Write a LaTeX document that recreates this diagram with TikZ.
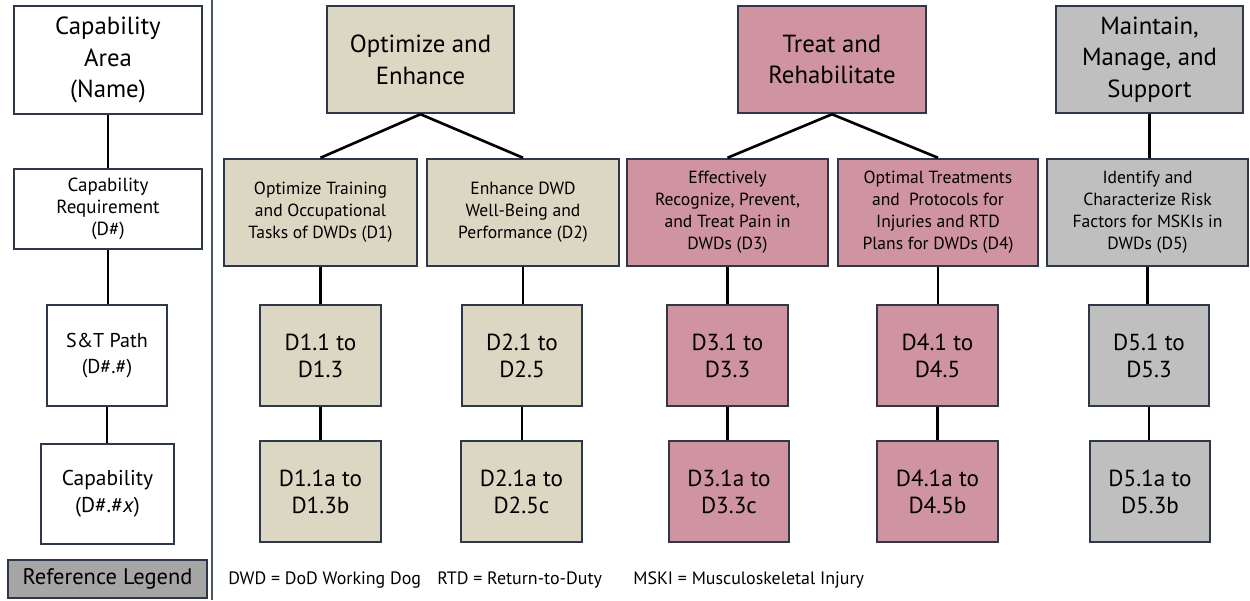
\documentclass[tikz,border=0pt]{standalone}
\usepackage{fontspec}
\setmainfont{PT Sans}
\definecolor{tanf}{HTML}{DBD7C2}
\definecolor{pinkf}{HTML}{D094A0}
\definecolor{grayf}{HTML}{BFBFBF}
\definecolor{legf}{HTML}{A6A6A6}
\definecolor{bord}{HTML}{2E3848}
\definecolor{divc}{HTML}{4A5666}
\newcommand{\bigtxt}{\fontsize{14.1pt}{18.1pt}\selectfont}
\newcommand{\midtxt}{\fontsize{10.0pt}{12.5pt}\selectfont}
\newcommand{\reqtxt}{\fontsize{10.8pt}{12.5pt}\selectfont}
\newcommand{\pathtxt}{\fontsize{12.2pt}{15.3pt}\selectfont}
\newcommand{\sttxt}{\fontsize{11.4pt}{15.3pt}\selectfont}
\newcommand{\numtxt}{\fontsize{13.2pt}{15.3pt}\selectfont}
\newcommand{\legtxt}{\fontsize{12.8pt}{15pt}\selectfont}
\newcommand{\notetxt}{\fontsize{10.2pt}{13pt}\selectfont}
\begin{document}
\begin{tikzpicture}[x=0.02cm,y=-0.02cm,
  box/.style={draw=bord, line width=1.4pt, inner sep=0pt, align=center, text=black},
  conn/.style={draw=black, line width=1.5pt},
  wh/.style={box, fill=white},
  tn/.style={box, fill=tanf},
  pk/.style={box, fill=pinkf},
  gy/.style={box, fill=grayf},
  W/.style={minimum width=#1*0.02cm},
  H/.style={minimum height=#1*0.02cm}]
\useasboundingbox (0,0) rectangle (1250,600);
% divider
\draw[divc, line width=0.8pt] (212,0) -- (212,600);
% left column
\node[wh, W=188, H=108, font=\bigtxt] (area) at (108,60) {Capability\\Area\\(Name)};
\node[wh, W=188, H=80, font=\reqtxt] (req) at (108,209) {Capability\\Requirement\\(D\#)};
\node[wh, W=120, H=101, font=\sttxt] (path) at (107,355.5) {S\&T Path\\(D\#.\#)};
\node[wh, W=133, H=100, font=\pathtxt] (cap) at (107.5,494) {Capability\\(D\#.\#\textit{x})};
\node[box, fill=legf, W=199, H=38, font=\legtxt] (leg) at (107.5,579) {Reference Legend};
\draw[conn] (area.south) -- (area.south |- req.north);
\draw[conn] (req.south) -- (req.south |- path.north);
\draw[conn] (path.south) -- (path.south |- cap.north);
% top row
\node[tn, W=187, H=107, font=\bigtxt] (opt) at (420.5,59.5) {Optimize and\\Enhance};
\node[pk, W=188, H=107, font=\bigtxt] (treat) at (832,59.5) {Treat and\\Rehabilitate};
\node[gy, W=187, H=107, font=\bigtxt] (maint) at (1149.5,59.5) {Maintain,\\Manage, and\\Support};
% second row
\node[tn, W=193, H=107, font=\midtxt] (d1) at (320.5,212.5) {Optimize Training\\and Occupational\\Tasks of DWDs (D1)};
\node[tn, W=192, H=107, font=\midtxt] (d2) at (523,212.5) {Enhance DWD\\Well-Being and\\Performance (D2)};
\node[pk, W=201, H=107, font=\midtxt] (d3) at (727.5,212.5) {Effectively\\Recognize, Prevent,\\and Treat Pain in\\DWDs (D3)};
\node[pk, W=200, H=107, font=\midtxt] (d4) at (938,212.5) {Optimal Treatments\\and\ \ Protocols for\\Injuries and RTD\\Plans for DWDs (D4)};
\node[gy, W=201, H=107, font=\midtxt] (d5) at (1147.5,212.5) {Identify and\\Characterize Risk\\Factors for MSKIs in\\DWDs (D5)};
% third row
\node[tn, W=121, H=101, font=\numtxt] (p1) at (320.5,355.5) {D1.1 to\\D1.3};
\node[tn, W=120, H=101, font=\numtxt] (p2) at (522,355.5) {D2.1 to\\D2.5};
\node[pk, W=121, H=101, font=\numtxt] (p3) at (727.5,355.5) {D3.1 to\\D3.3};
\node[pk, W=121, H=101, font=\numtxt] (p4) at (937.5,355.5) {D4.1 to\\D4.5};
\node[gy, W=120, H=101, font=\numtxt] (p5) at (1149,355.5) {D5.1 to\\D5.3};
% fourth row
\node[tn, W=121, H=101, font=\numtxt] (c1) at (320.5,491.5) {D1.1a to\\D1.3b};
\node[tn, W=121, H=101, font=\numtxt] (c2) at (521.5,491.5) {D2.1a to\\D2.5c};
\node[pk, W=120, H=101, font=\numtxt] (c3) at (729,491.5) {D3.1a to\\D3.3c};
\node[pk, W=121, H=101, font=\numtxt] (c4) at (937.5,491.5) {D4.1a to\\D4.5b};
\node[gy, W=120, H=101, font=\numtxt] (c5) at (1150,491.5) {D5.1a to\\D5.3b};
% connectors
\draw[conn] (opt.south) -- (d1.north);
\draw[conn] (opt.south) -- (d2.north);
\draw[conn] (treat.south) -- (d3.north);
\draw[conn] (treat.south) -- (d4.north);
\draw[conn] (maint.south) -- (maint.south |- d5.north);
\foreach \i in {1,...,5} {
  \draw[conn] (d\i.south) -- (d\i.south |- p\i.north);
  \draw[conn] (p\i.south) -- (p\i.south |- c\i.north);
}
% notes
\node[font=\notetxt, anchor=west, inner sep=0pt] (n1) at (228,580) {DWD = DoD Working Dog};
\node[font=\notetxt, anchor=west, inner sep=0pt] (n2) at (437,580) {RTD = Return-to-Duty};
\node[font=\notetxt, anchor=west, inner sep=0pt] (n3) at (633,580) {MSKI = Musculoskeletal Injury};
\end{tikzpicture}
\end{document}
